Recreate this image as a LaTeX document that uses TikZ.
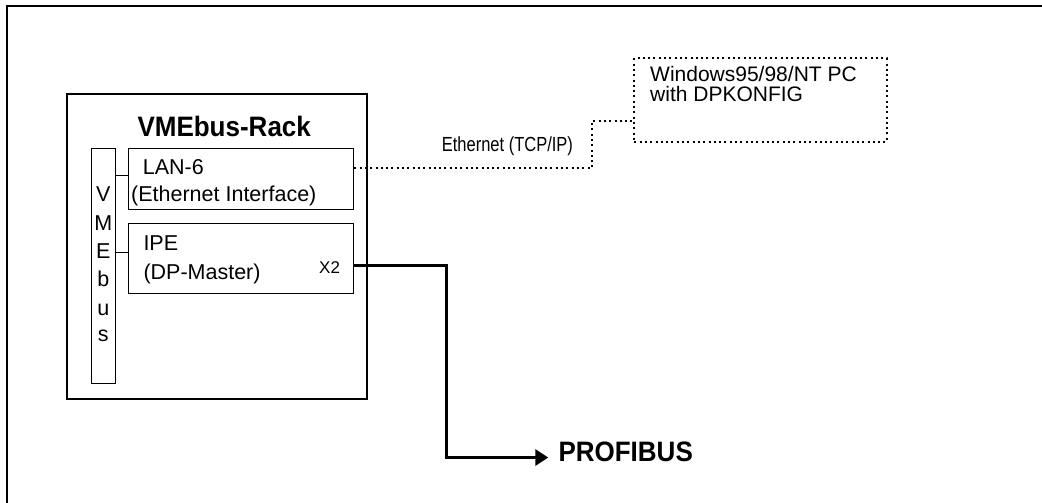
\documentclass[tikz,border=0pt]{standalone}
\usepackage{fontspec}
\setmainfont{Liberation Sans}
\usetikzlibrary{arrows.meta}
\tikzset{
  box/.style={draw, line width=1pt, inner sep=0pt, anchor=north west},
  txt/.style={inner sep=0pt, anchor=base west, font=\fontsize{21.5}{24}\selectfont},
  pcline/.style={line width=2pt, dash pattern=on 2pt off 3.3pt},
}
\begin{document}
\begin{tikzpicture}[x=1pt,y=-1pt]
\useasboundingbox (0,0) rectangle (1042,503);
% outer frame
\draw[line width=2pt] (6.7,510) -- (6.7,5.7) -- (1050,5.7);
% rack
\node[box, line width=2pt, minimum width=299.7pt, minimum height=305pt] (rack) at (66,92.7) {};
\node[inner sep=0pt, anchor=base west, font=\fontsize{26}{28}\selectfont\bfseries] (racktitle) at (137.3,136.7) {\scalebox{1}[1.08]{VMEbus-Rack}};
\node[box, minimum width=24pt, minimum height=235.3pt] (vbar) at (91.3,148) {};
\node[box, minimum width=225.6pt, minimum height=61pt] (lan) at (127.7,148) {};
\node[box, minimum width=225.6pt, minimum height=70pt] (ipe) at (127.7,223.3) {};
% VMEbus letters
\foreach \l/\yy/\nm in {V/201.7/v1, M/230/v2, E/258.7/v3, b/286.7/v4, u/315/v5, s/341.7/v6}
  \node[inner sep=0pt, anchor=base, font=\fontsize{21.5}{24}\selectfont] (\nm) at (103.3,\yy) {\l};
% card texts
\node[txt] (lant1) at (142.7,174.3) {LAN-6};
\node[txt] (lant2) at (131,201.7) {(Ethernet Interface)};
\node[txt] (ipet1) at (143.3,250.7) {IPE};
\node[txt] (ipet2) at (143.3,279) {(DP-Master)};
\node[txt, font=\fontsize{17}{19}\selectfont] (x2) at (319,273.3) {X2};
% connectors bar to cards
\coordinate (lanin) at ([yshift=3.2pt]lan.west);
\coordinate (ipein) at ([yshift=6.6pt]ipe.west);
\draw[line width=1pt] (vbar.east |- lanin) -- (lanin);
\draw[line width=1pt] (vbar.east |- ipein) -- (ipein);
% PC box
\node[box, pcline, minimum width=252.4pt, minimum height=83.4pt] (pc) at (633.3,57.3) {};
\node[txt, font=\fontsize{21}{23}\selectfont] (pct1) at (650,81.7) {Windows95/98/NT PC};
\node[txt, font=\fontsize{21}{23}\selectfont] (pct2) at (650,101.7) {with DPKONFIG};
% Ethernet link
\coordinate (lanout) at ([yshift=10.8pt]lan.east);
\coordinate (pcin) at ([yshift=-21pt]pc.west);
\draw[pcline] (lanout) -- ++(237.7,0) |- (pcin);
\node[txt, font=\fontsize{17}{19}\selectfont] (eth) at (441.7,151) {\scalebox{0.97}[1.2]{Ethernet (TCP/IP)}};
% PROFIBUS
\node[inner sep=0pt, anchor=base west, font=\fontsize{26}{28}\selectfont\bfseries] (profibus) at (558.3,461.7) {\scalebox{1}[1.08]{PROFIBUS}};
\coordinate (ipeout) at ([yshift=-6.7pt]ipe.east);
\coordinate (pbin) at ([xshift=-10pt,yshift=-5.5pt]profibus.west);
\draw[line width=3pt, -{Triangle[length=13pt,width=16pt]}] (ipeout) -- ++(92.4,0) |- (pbin);
\end{tikzpicture}
\end{document}
